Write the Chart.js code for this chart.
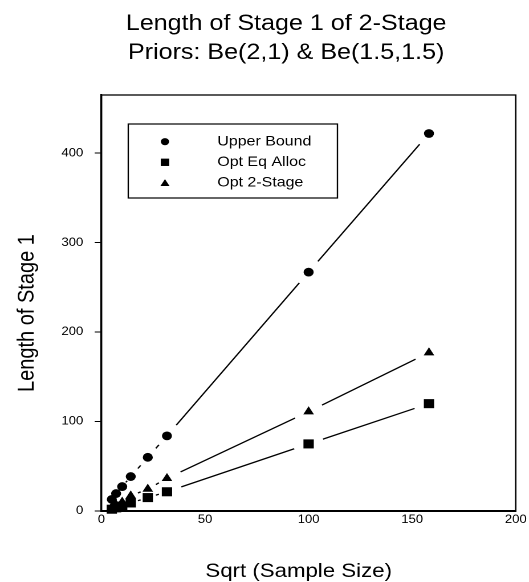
<!DOCTYPE html>
<html lang="en">
<head>
<meta charset="UTF-8" />
<title>Length of Stage 1 of 2-Stage</title>
<script src="https://cdn.jsdelivr.net/npm/chart.js"></script>
<style>
  html, body { margin: 0; padding: 0; background: #fff; overflow: hidden; }
  /* the reference is a little wider than tall in its lettering, so stretch it */
  #wrap { width: 464px; height: 582px; transform: scaleX(1.14); transform-origin: 0 0; }
</style>
</head>
<body>
<div id="wrap"><canvas id="chart" width="464" height="582"></canvas></div>
<script>
  const sqrtN = [5, 7.07, 10, 14.14, 22.36, 31.62, 100, 158.11];
  const upperBound = [13, 19.5, 27.3, 38.5, 60, 84, 267, 422];
  const optEqAlloc = [2, 3.5, 5.5, 9, 15, 21.5, 75, 120];
  const opt2Stage = [4.5, 7, 10, 17, 24.5, 36.5, 111, 177];
  const seriesNames = ["Upper Bound", "Opt Eq Alloc", "Opt 2-Stage"];
  const xTicks = [0, 50, 100, 150, 200];
  const yTicks = [0, 100, 200, 300, 400];
  const titleLines = ["Length of Stage 1 of 2-Stage", "Priors: Be(2,1) & Be(1.5,1.5)"];
  const xTitle = "Sqrt (Sample Size)";
  const yTitle = "Length of Stage 1";

  const FONT = '"Liberation Sans", Arial, Helvetica, sans-serif';

  function toPoints(ys) {
    return sqrtN.map((x, i) => ({ x: x, y: ys[i] }));
  }

  // --- plugins ---

  // SigmaPlot style: straight segments that stop short of each symbol
  const gapLines = {
    id: "gapLines",
    beforeDatasetsDraw(chart) {
      const ctx = chart.ctx;
      ctx.save();
      ctx.strokeStyle = "#000";
      ctx.lineWidth = 1.3;
      chart.data.datasets.forEach((ds, i) => {
        const pts = chart.getDatasetMeta(i).data;
        for (let k = 1; k < pts.length; k++) {
          const a = pts[k - 1], b = pts[k];
          const dx = b.x - a.x, dy = b.y - a.y;
          const len = Math.hypot(dx, dy);
          const gap = Math.min(13.5, len * 0.42);
          if (len <= 2 * gap + 0.5) continue;
          const ux = dx / len, uy = dy / len;
          ctx.beginPath();
          ctx.moveTo(a.x + ux * gap, a.y + uy * gap);
          ctx.lineTo(b.x - ux * gap, b.y - uy * gap);
          ctx.stroke();
        }
      });
      ctx.restore();
    }
  };

  const frame = {
    id: "frame",
    beforeDatasetsDraw(chart) {
      const { left, top, right, bottom } = chart.chartArea;
      const ctx = chart.ctx;
      ctx.save();
      ctx.strokeStyle = "#000";
      ctx.lineWidth = 1.3;
      ctx.strokeRect(left, top, right - left, bottom - top);
      ctx.restore();
    }
  };

  const texts = {
    id: "texts",
    afterDraw(chart) {
      const ctx = chart.ctx;
      ctx.save();
      ctx.fillStyle = "#000";
      ctx.textAlign = "center";
      ctx.textBaseline = "alphabetic";
      ctx.font = "22px " + FONT;
      ctx.fillText(titleLines[0], 251, 30);
      ctx.fillText(titleLines[1], 251, 59);

      ctx.font = "19.5px " + FONT;
      ctx.fillText(xTitle, 262, 577);

      ctx.translate(29.5, 392);
      ctx.rotate(-Math.PI / 2);
      ctx.textAlign = "left";
      ctx.font = "20px " + FONT;
      ctx.fillText(yTitle, 0, 0);
      ctx.restore();
    }
  };

  const boxLegend = {
    id: "boxLegend",
    afterDatasetsDraw(chart) {
      const ctx = chart.ctx;
      const bx = 112.5, by = 124, bw = 183.5, bh = 74;
      const rowY = [141.7, 162.3, 182.7];
      const marks = [
        { pointStyle: "circle", radius: 3.6 },
        { pointStyle: "rect", radius: 5.2 },
        { pointStyle: "triangle", radius: 4.6 }
      ];
      ctx.save();
      ctx.fillStyle = "#fff";
      ctx.fillRect(bx, by, bw, bh);
      ctx.strokeStyle = "#000";
      ctx.lineWidth = 1.2;
      ctx.strokeRect(bx, by, bw, bh);
      ctx.fillStyle = "#000";
      ctx.font = "14px " + FONT;
      ctx.textAlign = "left";
      ctx.textBaseline = "middle";
      seriesNames.forEach((name, i) => {
        const m = marks[i];
        const my = m.pointStyle === "triangle" ? rowY[i] + 1 : rowY[i];
        Chart.helpers.drawPoint(ctx, { pointStyle: m.pointStyle, radius: m.radius, rotation: 0, borderWidth: 0 }, 144.7, my);
        ctx.fillStyle = "#000";
        ctx.fillText(name, 190.6, rowY[i]);
      });
      ctx.restore();
    }
  };

  // --- chart ---

  const dsBase = { showLine: false, backgroundColor: "#000", borderColor: "#000", pointBorderWidth: 0, clip: false };

  new Chart(document.getElementById("chart"), {
    type: "scatter",
    data: {
      datasets: [
        Object.assign({ label: seriesNames[0], data: toPoints(upperBound), pointStyle: "circle", pointRadius: 4.4 }, dsBase),
        Object.assign({ label: seriesNames[1], data: toPoints(optEqAlloc), pointStyle: "rect", pointRadius: 6.4 }, dsBase),
        Object.assign({ label: seriesNames[2], data: toPoints(opt2Stage), pointStyle: "triangle", pointRadius: 5.4 }, dsBase)
      ]
    },
    options: {
      responsive: false,
      animation: false,
      devicePixelRatio: 2,
      layout: { padding: { left: 0, top: 95, right: 11.4, bottom: 0 } },
      plugins: { legend: { display: false }, title: { display: false }, tooltip: { enabled: false } },
      elements: { point: { hoverRadius: 0 } },
      scales: {
        x: {
          type: "linear",
          min: 0,
          max: 200,
          afterBuildTicks: s => { s.ticks = xTicks.map(v => ({ value: v })); },
          afterFit: s => { s.height = 71; },
          grid: { display: false, drawTicks: false },
          border: { display: true, color: "#000", width: 2 },
          ticks: { color: "#000", padding: 2, maxRotation: 0, font: { size: 11.5, family: FONT } }
        },
        y: {
          type: "linear",
          min: 0,
          max: 465,
          afterBuildTicks: s => { s.ticks = yTicks.map(v => ({ value: v })); },
          afterFit: s => { s.width = 89; },
          grid: { display: true, drawOnChartArea: false, drawTicks: true, tickLength: 6, color: "#000", lineWidth: 1 },
          border: { display: true, color: "#000", width: 1.6 },
          ticks: { color: "#000", padding: 10, font: { size: 11.5, family: FONT } }
        }
      }
    },
    plugins: [frame, gapLines, boxLegend, texts]
  });
</script>
</body>
</html>
